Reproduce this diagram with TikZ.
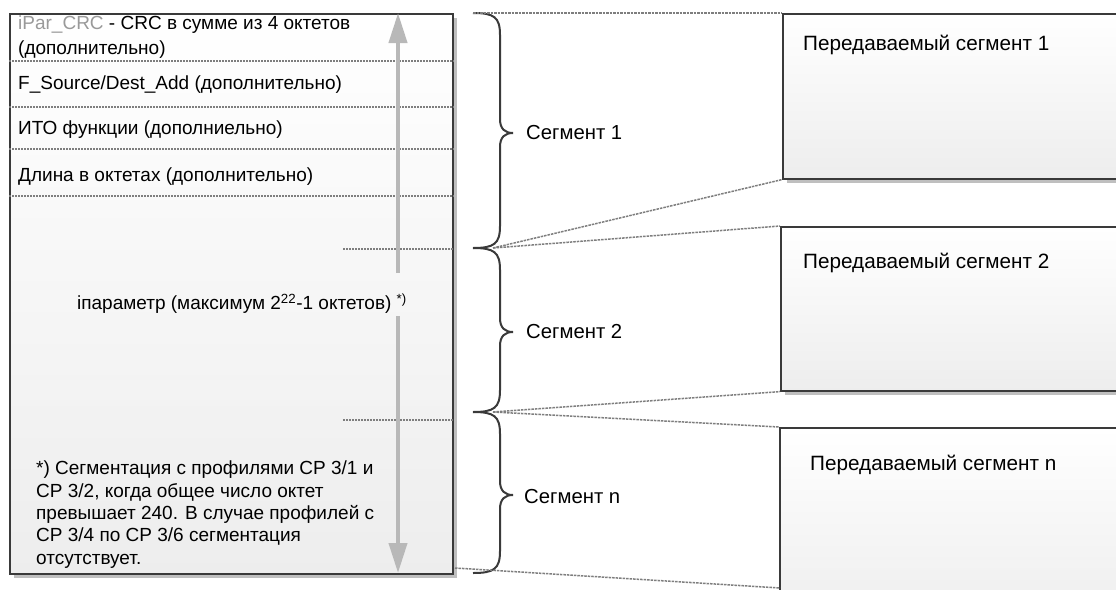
\documentclass[tikz,border=0pt]{standalone}
\usepackage{fontspec}
\setmainfont{Liberation Sans}
\usetikzlibrary{arrows.meta,shadows}
\definecolor{edge}{HTML}{3A3A3A}
\definecolor{dash}{HTML}{7E7E7E}
\definecolor{arrowgray}{HTML}{B8B8B8}
\definecolor{crcgray}{HTML}{9A9A9A}
\tikzset{
  panel/.style={draw=edge, line width=1.6pt, top color=white, bottom color=gray!14,
    drop shadow={shadow xshift=4pt, shadow yshift=-4pt, fill=gray!55, opacity=0.9},
    inner sep=0pt, anchor=north west},
  fieldtext/.style={anchor=west, inner sep=0pt, font=\fontsize{19}{22}\selectfont},
  seglabel/.style={anchor=west, inner sep=0pt, font=\fontsize{20.3}{24}\selectfont},
  boxlabel/.style={anchor=west, inner sep=0pt, font=\fontsize{20.7}{24}\selectfont},
  sep/.style={draw=dash, line width=1.2pt, dash pattern=on 2pt off 1pt},
  link/.style={draw=dash, line width=1.5pt, dash pattern=on 2.5pt off 1pt},
  bigarrow/.style={draw=arrowgray, line width=4pt, -{Triangle[length=30pt,width=18pt]}},
  bracepath/.style={draw=edge, line width=2pt}
}
\begin{document}
\begin{tikzpicture}[x=1pt,y=-1pt]
\useasboundingbox (0,0) rectangle (1116,589);
\fill[white] (0,0) rectangle (1116,589);
\clip (0,0) rectangle (1116,589);

% left frame
\node[panel, minimum width=443pt, minimum height=560pt] (L) at (9,13) {};

% field texts
\node[fieldtext] (t1) at (18,25) {{\color{crcgray}iPar\_CRC} - CRC в сумме из 4 октетов};
\node[fieldtext] (t1b) at (18,50) {(дополнительно)};
\node[fieldtext] (t2) at (18,85) {F\_Source/Dest\_Add (дополнительно)};
\node[fieldtext] (t3) at (18,130) {ИТО функции (дополниельно)};
\node[fieldtext] (t4) at (18,177) {Длина в октетах (дополнительно)};

% separators
\foreach \yy in {61,107,149,196} {
  \draw[sep] (L.west |- 0,\yy) -- (L.east |- 0,\yy);
}
\draw[sep] (343,249) -- (L.east |- 0,249);
\draw[sep] (343,420) -- (L.east |- 0,420);

% double arrow
\coordinate (aup0) at (398,273);
\coordinate (aup1) at (398,13);
\coordinate (adn0) at (398,316);
\coordinate (adn1) at (398,573);
\draw[bigarrow] (aup0) -- (aup1);
\draw[bigarrow] (adn0) -- (adn1);

\node[fieldtext, anchor=center] (param) at (242,304)
  {iпараметр (максимум 2\textsuperscript{22}-1 октетов) \textsuperscript{*)}};

\node[anchor=north west, inner sep=0pt, align=left, font=\fontsize{19}{22.3}\selectfont] (note) at (36,461)
  {*) Сегментация с профилями СР 3/1 и\\
   СР 3/2, когда общее число октет\\
   превышает 240. В случае профилей с\\
   СР 3/4 по СР 3/6 сегментация\\
   отсутствует.};

% right boxes
\node[panel, minimum width=400pt, minimum height=165pt] (R1) at (782,13) {};
\node[panel, minimum width=400pt, minimum height=164pt] (R2) at (780,226) {};
\node[panel, minimum width=400pt, minimum height=200pt] (Rn) at (779,427) {};
\node[boxlabel] (r1t) at (803,45) {Передаваемый сегмент 1};
\node[boxlabel] (r2t) at (803,263) {Передаваемый сегмент 2};
\node[boxlabel] (rnt) at (810,465) {Передаваемый сегмент n};

% braces
\def\bracefrom#1#2#3{%
  \draw[bracepath] (473,#1) .. controls (494,#1) and (500,#1+4) .. (500,#1+22)
    -- (500,#3-14) .. controls (500,#3-4) and (505,#3) .. (513,#3)
    .. controls (505,#3) and (500,#3+4) .. (500,#3+14)
    -- (500,#2-22) .. controls (500,#2-4) and (494,#2) .. (473,#2);}
\bracefrom{13}{248}{133}
\bracefrom{248}{412}{332}
\bracefrom{412}{573}{495}

\coordinate (b1t) at (473,13);
\coordinate (b1b) at (493,248);
\coordinate (b2b) at (493,412);
\coordinate (lbot) at (455,568);
\coordinate (rnb) at (780,588);

\node[seglabel] (s1) at (526,133) {Сегмент 1};
\node[seglabel] (s2) at (526,332) {Сегмент 2};
\node[seglabel] (sn) at (524,497) {Сегмент n};

% connectors
\draw[link] (b1t) -- (R1.north west);
\draw[link] (b1b) -- (R1.south west);
\draw[link] (b1b) -- (R2.north west);
\draw[link] (b2b) -- (R2.south west);
\draw[link] (b2b) -- (Rn.north west);
\draw[link] (lbot) -- (rnb);
\end{tikzpicture}
\end{document}
